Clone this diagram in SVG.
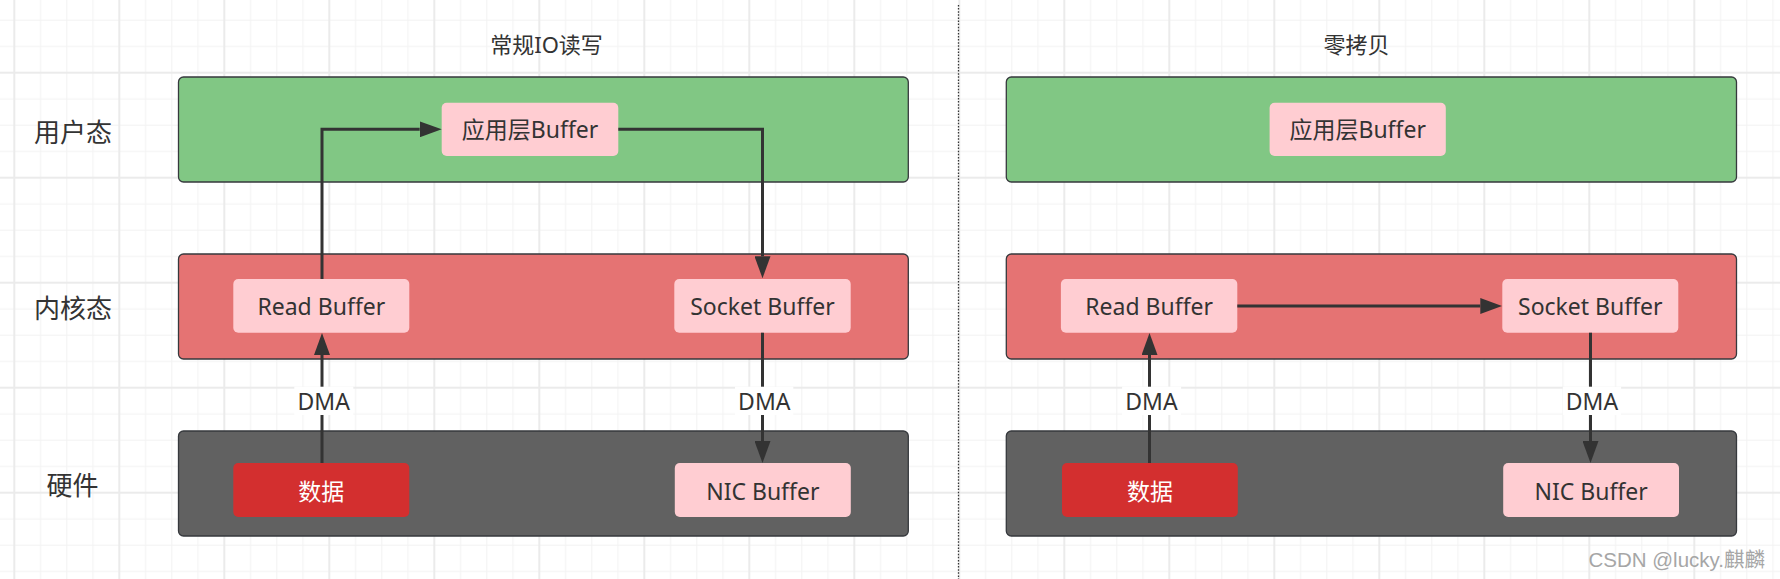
<svg xmlns="http://www.w3.org/2000/svg" width="1780" height="579" viewBox="0 0 1780 579">
<style>
.lane{stroke:#36393d;stroke-width:1.3}
.green{fill:#81c784}
.red{fill:#e57373}
.gray{fill:#616161}
.buf{fill:#ffcdd2}
.data{fill:#d32f2f}
.t{font-family:"Noto Sans","Noto Sans CJK SC",sans-serif;fill:#333;text-anchor:middle}
.bt{font-size:23px}
.side{font-size:26px}
.title{font-size:22px}
.white{fill:#fff}
.conn{fill:none;stroke:#333;stroke-width:3;marker-end:url(#arr)}
.lbl{fill:#fff}
</style>
<defs>
<pattern id="grid" patternUnits="userSpaceOnUse" x="13.3" y="-33.3" width="105" height="105">
<rect x="26.75" y="0" width="1" height="105" fill="#f2f2f2"/>
<rect x="53" y="0" width="1" height="105" fill="#f2f2f2"/>
<rect x="79.25" y="0" width="1" height="105" fill="#f2f2f2"/>
<rect x="0" y="26.75" width="105" height="1" fill="#f2f2f2"/>
<rect x="0" y="53" width="105" height="1" fill="#f2f2f2"/>
<rect x="0" y="79.25" width="105" height="1" fill="#f2f2f2"/>
<rect x="0" y="0" width="2" height="105" fill="#ebebeb"/>
<rect x="0" y="0" width="105" height="2" fill="#ebebeb"/>
</pattern>
<marker id="arr" markerUnits="userSpaceOnUse" viewBox="0 0 22 16" markerWidth="22" markerHeight="16" refX="0" refY="8" orient="auto">
<path d="M0,0 L22,8 L0,16 z" fill="#333"/>
</marker>
</defs>
<rect width="1780" height="579" fill="#fff"/>
<rect width="1780" height="579" fill="url(#grid)"/>
<line x1="958.5" y1="5" x2="958.5" y2="579" stroke="#333" stroke-width="1.3" stroke-dasharray="1.5 1.6"/>

<g id="title-left"><text class="t title" x="546.5" y="52.5">常规IO读写</text></g>
<g id="title-right"><text class="t title" x="1356.5" y="52.5">零拷贝</text></g>
<g id="label-user"><text class="t side" x="73" y="141.5">用户态</text></g>
<g id="label-kernel"><text class="t side" x="73" y="318.2">内核态</text></g>
<g id="label-hw"><text class="t side" x="72.5" y="495">硬件</text></g>

<g id="left-user"><rect class="lane green" x="178.5" y="77" width="729.8" height="105" rx="5"/></g>
<g id="left-kernel"><rect class="lane red" x="178.5" y="254" width="729.8" height="105" rx="5"/></g>
<g id="left-hw"><rect class="lane gray" x="178.5" y="431" width="729.8" height="105" rx="5"/></g>
<g id="right-user"><rect class="lane green" x="1006.3" y="77" width="730.2" height="105" rx="5"/></g>
<g id="right-kernel"><rect class="lane red" x="1006.3" y="254" width="730.2" height="105" rx="5"/></g>
<g id="right-hw"><rect class="lane gray" x="1006.3" y="431" width="730.2" height="105" rx="5"/></g>

<g id="left-app"><rect class="buf" x="441.7" y="102.7" width="176.6" height="53.3" rx="5"/><text class="t bt" x="530" y="138.3">应用层Buffer</text></g>
<g id="left-read"><rect class="buf" x="233.3" y="279" width="176" height="53.7" rx="5"/><text class="t bt" x="321.3" y="315">Read Buffer</text></g>
<g id="left-socket"><rect class="buf" x="674.3" y="279" width="176.4" height="53.7" rx="5"/><text class="t bt" x="762.5" y="314.5">Socket Buffer</text></g>
<g id="left-data"><rect class="data" x="233.3" y="463" width="176" height="54" rx="5"/><text class="t bt white" x="321.3" y="499.5">数据</text></g>
<g id="left-nic"><rect class="buf" x="674.8" y="463" width="176" height="54" rx="5"/><text class="t bt" x="762.8" y="499.5">NIC Buffer</text></g>

<g id="right-app"><rect class="buf" x="1269.6" y="102.7" width="176.2" height="53.3" rx="5"/><text class="t bt" x="1357.7" y="138.3">应用层Buffer</text></g>
<g id="right-read"><rect class="buf" x="1060.9" y="279" width="176.4" height="53.7" rx="5"/><text class="t bt" x="1149.1" y="315">Read Buffer</text></g>
<g id="right-socket"><rect class="buf" x="1502.3" y="279" width="176" height="53.7" rx="5"/><text class="t bt" x="1590.3" y="314.5">Socket Buffer</text></g>
<g id="right-data"><rect class="data" x="1062" y="463" width="175.8" height="54" rx="5"/><text class="t bt white" x="1149.9" y="499.5">数据</text></g>
<g id="right-nic"><rect class="buf" x="1503.2" y="463" width="175.8" height="54" rx="5"/><text class="t bt" x="1591.1" y="499.5">NIC Buffer</text></g>

<g id="connectors">
<path class="conn" d="M322,279 V129.3 H419.7"/>
<path class="conn" d="M618.3,129.3 H762.5 V256.3"/>
<path class="conn" d="M322,463 V355"/>
<path class="conn" d="M762.5,332.7 V441"/>
<path class="conn" d="M1149.5,463 V355"/>
<path class="conn" d="M1237.3,306 H1480.3"/>
<path class="conn" d="M1590.5,332.7 V441"/>
<rect class="lbl" x="294.3" y="386.7" width="59" height="28.3"/>
<text class="t bt" x="323.7" y="409.5">DMA</text>
<rect class="lbl" x="735" y="386.7" width="58.3" height="28.3"/>
<text class="t bt" x="764.3" y="409.5">DMA</text>
<rect class="lbl" x="1122.1" y="386.7" width="59" height="28.3"/>
<text class="t bt" x="1151.5" y="409.5">DMA</text>
<rect class="lbl" x="1562.8" y="386.7" width="58.3" height="28.3"/>
<text class="t bt" x="1592" y="409.5">DMA</text>
</g>

<text x="1765" y="566.5" font-family="'Liberation Sans','Noto Sans CJK SC',sans-serif" font-size="20.5" fill="#a6a6a6" text-anchor="end">CSDN @lucky.麒麟</text>
</svg>
